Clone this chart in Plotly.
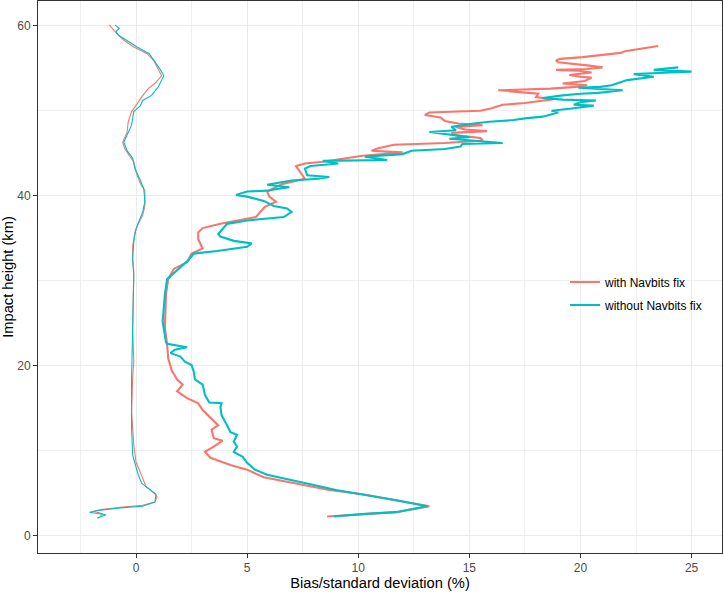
import plotly.graph_objects as go

# colores por defecto de ggplot para 2 grupos
RED = "#F8766D"
CYAN = "#00BFC4"

# desviacion estandar (%) - con fix de Navbits
std_with_h = [2.3, 2.6, 2.8, 3.5, 4.2, 4.9, 5.4, 6.0, 6.9, 7.8, 8.35, 9.2, 9.9, 10.5, 11.2, 11.5,
              12.5, 13.0, 13.9, 14.8, 15.6, 16.2, 17.0, 17.8, 18.4, 19.5, 20.9, 22.5, 24.5, 28.4,
              30.2, 31.4, 32.2, 33.2, 33.8, 34.9, 35.7, 36.2, 36.7, 37.1, 37.5, 38.1, 38.7, 39.3,
              39.9, 40.5, 41.1, 41.4, 42.0, 42.6, 43.5, 43.8, 44.0, 44.7, 45.1, 45.3, 45.6, 46.0,
              46.1, 46.2, 46.5, 46.8, 47.1, 47.4, 47.6, 47.8, 48.1, 48.3, 48.5, 48.8, 49.2, 49.5,
              49.8, 50.0, 50.3, 50.7, 50.9, 51.1, 51.35, 51.6, 52.0, 52.4, 52.6, 52.8, 53.0, 53.2,
              53.5, 53.9, 54.0, 54.2, 54.5, 54.7, 54.8, 54.9, 55.1, 55.3, 55.4, 55.6, 55.7, 55.9,
              56.1, 56.3, 56.6, 56.8, 57.0, 57.3, 57.6]
std_with_v = [8.6, 10.3, 11.7, 13.2, 11.7, 10.2, 8.7, 7.5, 5.75, 5.0, 4.25, 3.35, 3.1, 3.5, 3.9, 3.5,
              3.4, 3.7, 3.35, 3.0, 2.8, 2.3, 1.85, 2.1, 1.85, 1.6, 1.45, 1.4, 1.3, 1.35,
              1.45, 1.7, 2.3, 2.5, 3.0, 2.8, 2.8, 3.0, 3.8, 4.55, 5.4, 5.6, 5.8, 6.3,
              6.0, 5.9, 6.4, 6.6, 7.6, 7.45, 7.2, 7.6, 8.4, 10.2, 12.0, 10.6, 10.9, 11.6,
              12.7, 13.9, 15.6, 15.5, 14.4, 14.2, 15.8, 14.8, 14.4, 15.6, 14.5, 13.9, 13.7, 13.0,
              13.2, 15.5, 16.0, 16.5, 17.5, 18.2, 18.8, 18.0, 18.1, 16.3, 18.65, 19.8, 20.3, 19.2,
              20.2, 20.5, 20.0, 19.5, 20.5, 19.9, 18.9, 20.3, 21.0, 20.4, 20.0, 19.5, 19.0, 18.9,
              19.1, 20.1, 21.1, 21.8, 22.0, 22.7, 23.5]

# desviacion estandar (%) - sin fix de Navbits
std_without_h = [2.3, 2.6, 2.8, 3.5, 4.2, 4.9, 5.4, 6.0, 6.6, 7.2, 7.8, 8.6, 9.3, 9.9, 10.5, 11.1,
                 11.9, 12.2, 13.0, 14.2, 15.2, 15.6, 15.7, 16.6, 17.8, 18.4, 19.3, 20.1, 20.5, 21.1,
                 21.5, 21.9, 22.2, 22.6, 22.8, 25.2, 28.4, 30.2, 31.6, 32.4, 33.2, 33.5, 34.0, 34.4,
                 34.7, 35.2, 35.5, 36.1, 36.7, 37.1, 37.5, 38.1, 38.5, 38.8, 39.4, 39.9, 40.1, 40.5,
                 40.6, 40.8, 41.0, 41.3, 41.6, 41.8, 42.0, 42.2, 42.4, 43.2, 43.5, 43.8, 44.1, 44.2,
                 44.6, 44.9, 45.3, 45.5, 45.8, 46.1, 46.2, 46.5, 46.7, 46.9, 47.2, 47.5, 47.7, 48.1,
                 48.5, 48.7, 48.9, 49.1, 49.3, 49.8, 50.0, 50.1, 50.3, 50.6, 50.7, 51.0, 51.2, 51.3,
                 51.5, 51.8, 52.0, 52.1, 52.4, 52.7, 52.8, 53.0, 53.3, 53.6, 54.0, 54.3, 54.5, 54.6,
                 54.8, 55.1]
std_without_v = [8.9, 10.3, 11.7, 13.1, 11.7, 10.2, 9.0, 8.0, 6.9, 5.9, 5.35, 5.0, 4.8, 4.4, 4.55, 4.4,
                 4.55, 4.25, 4.1, 3.85, 3.8, 3.85, 3.3, 3.1, 3.0, 2.65, 2.6, 2.5, 2.2, 2.0,
                 1.55, 1.75, 2.3, 1.4, 1.35, 1.2, 1.3, 1.4, 2.0, 2.35, 2.6, 3.65, 5.0, 5.2,
                 4.4, 3.8, 3.7, 3.9, 4.1, 5.0, 6.65, 7.0, 6.8, 6.2, 5.75, 5.0, 4.5, 5.0,
                 5.9, 6.35, 6.9, 5.9, 6.5, 7.0, 8.2, 8.7, 7.7, 7.6, 7.85, 9.1, 8.4, 11.3,
                 10.3, 12.0, 12.4, 13.9, 14.6, 14.7, 16.5, 14.8, 14.1, 15.0, 14.1, 13.2, 14.4, 14.2,
                 15.2, 15.9, 17.0, 17.5, 18.3, 19.0, 18.7, 19.1, 19.7, 20.6, 19.7, 20.0, 20.7, 19.2,
                 18.3, 19.2, 20.0, 20.8, 21.9, 19.9, 20.9, 21.4, 21.8, 22.1, 23.3, 22.4, 24.0, 25.0,
                 23.3, 24.4]

# bias (%) - con fix
bias_with_h = [2.4, 2.6, 2.9, 3.1, 3.4, 3.6, 4.0, 4.6, 5.0, 5.8, 6.8, 8.7, 10.7, 14.6, 18.6, 20.5,
               24.5, 28.7, 31.0, 32.6, 34.1, 35.7, 36.7, 37.7, 38.8, 40.6, 41.4, 42.4, 44.0, 44.7,
               45.5, 46.3, 47.5, 48.7, 49.9, 50.8, 51.6, 52.6, 53.2, 54.1, 54.9, 55.9, 56.7, 57.5,
               58.2, 59.0, 60.1]
bias_with_v = [-1.6, -1.5, -1.9, -1.6, -0.6, 0.3, 0.85, 0.95, 0.85, 0.45, 0.3, 0.0, -0.1, -0.2, -0.15, -0.1,
               -0.15, -0.1, -0.1, -0.15, -0.15, -0.05, 0.1, 0.3, 0.4, 0.4, 0.2, 0.05, -0.1, -0.3,
               -0.5, -0.6, -0.4, -0.35, -0.2, 0.05, 0.25, 0.55, 0.85, 1.15, 1.0, 0.8, 0.5, -0.1,
               -0.5, -0.85, -1.2]

# bias (%) - sin fix
bias_without_h = [2.1, 2.5, 2.8, 3.0, 3.3, 3.5, 4.0, 4.9, 5.6, 6.2, 7.2, 9.5, 12.7, 18.6, 24.5, 28.4,
                  30.6, 32.6, 34.6, 36.1, 37.3, 38.1, 39.3, 40.8, 41.8, 43.2, 44.4, 45.3, 46.3, 47.1,
                  48.3, 49.9, 50.6, 51.2, 51.8, 52.8, 54.1, 54.8, 55.7, 56.7, 57.5, 58.2, 58.9, 59.3,
                  59.7, 60.1]
bias_without_v = [-1.75, -1.35, -2.1, -1.7, -0.7, 0.3, 0.85, 0.9, 0.55, 0.25, 0.1, -0.15, -0.2, -0.2, -0.15, -0.1,
                  -0.1, -0.15, -0.1, 0.0, 0.2, 0.3, 0.4, 0.35, 0.2, -0.05, -0.15, -0.4, -0.55, -0.4,
                  -0.2, -0.1, 0.2, 0.3, 0.7, 1.0, 1.25, 1.1, 0.85, 0.6, 0.05, -0.4, -0.8, -0.9,
                  -0.75, -0.95]

FONT = "Arial, Liberation Sans, sans-serif"

fig = go.Figure()
fig.add_trace(go.Scatter(x=std_with_v, y=std_with_h, mode="lines", name="with Navbits fix",
                         line=dict(color=RED, width=2.1), legendgroup="with"))
fig.add_trace(go.Scatter(x=std_without_v, y=std_without_h, mode="lines", name="without Navbits fix",
                         line=dict(color=CYAN, width=2.1), legendgroup="without"))
fig.add_trace(go.Scatter(x=bias_with_v, y=bias_with_h, mode="lines", name="with Navbits fix",
                         line=dict(color=RED, width=1.1), legendgroup="with", showlegend=False))
fig.add_trace(go.Scatter(x=bias_without_v, y=bias_without_h, mode="lines", name="without Navbits fix",
                         line=dict(color=CYAN, width=1.1), legendgroup="without", showlegend=False))

# caja blanca de la leyenda (tapa la grilla como en ggplot)
fig.add_shape(type="rect", xref="paper", yref="paper", x0=0.7705, x1=0.9795, y0=0.4167, y1=0.5634,
              fillcolor="white", line=dict(width=0), layer="between")

ejes = dict(showline=True, mirror=True, linecolor="#333333", linewidth=1,
            ticks="outside", ticklen=4, tickcolor="#333333", tickwidth=1,
            showgrid=True, gridcolor="#EBEBEB", gridwidth=1, zeroline=False, automargin=False,
            tickfont=dict(family=FONT, size=12, color="#4D4D4D"))

fig.update_layout(
    width=724, height=592,
    margin=dict(l=38, r=2, t=1, b=39),
    paper_bgcolor="white", plot_bgcolor="white",
    font=dict(family=FONT, size=12, color="black"),
    legend=dict(x=0.7705, xanchor="left", y=0.470, yanchor="middle",
                bgcolor="rgba(0,0,0,0)", font=dict(family=FONT, size=12, color="black"),
                tracegroupgap=4),
    xaxis=dict(range=[-4.41, 26.37], tickvals=[0, 5, 10, 15, 20, 25],
               minor=dict(dtick=2.5, tick0=0, showgrid=True, gridcolor="#EFEFEF", gridwidth=1, ticks=""),
               title=dict(text="Bias/standard deviation (%)", font=dict(family=FONT, size=14.7), standoff=2),
               **ejes),
    yaxis=dict(range=[-2.0, 62.9], tickvals=[0, 20, 40, 60],
               minor=dict(dtick=10, tick0=0, showgrid=True, gridcolor="#EFEFEF", gridwidth=1, ticks=""),
               title=dict(text="Impact height (km)", font=dict(family=FONT, size=14.7), standoff=2),
               **ejes),
)

# sin margen del body para que la figura ocupe la ventana entera
fig.write_html("out.html", config={"displayModeBar": False},
               post_script="document.body.style.margin='0';")
